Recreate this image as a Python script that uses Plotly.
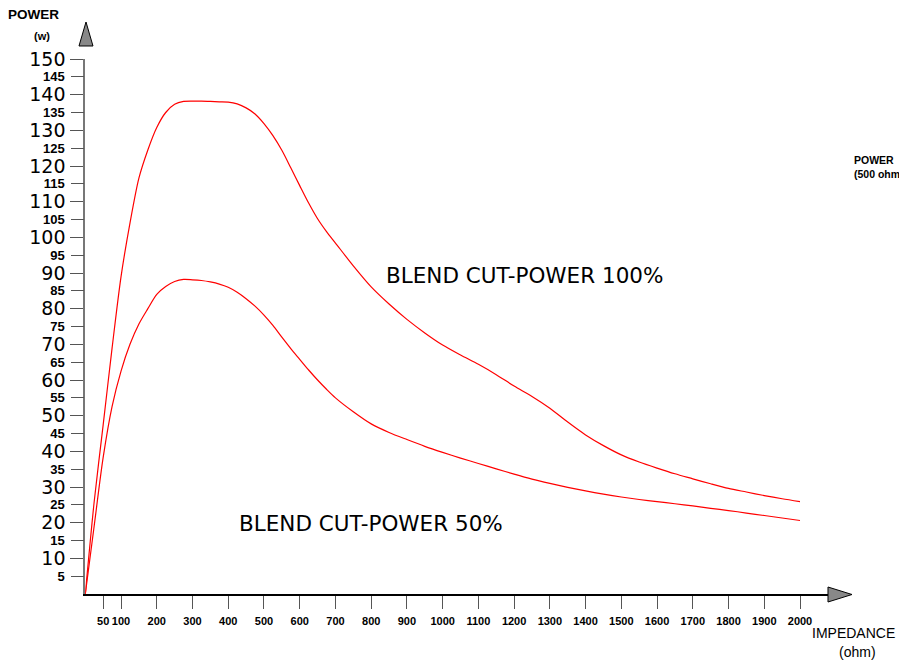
import plotly.graph_objects as go

# ---- data ----
impedance = [0, 25, 50, 75, 100, 125, 150, 175, 200, 225, 250, 275, 300, 325, 350, 375, 400,
             425, 450, 475, 500, 525, 550, 575, 600, 625, 650, 675, 700, 750, 800, 850, 900,
             950, 1000, 1050, 1100, 1150, 1200, 1250, 1300, 1350, 1400, 1450, 1500, 1550,
             1600, 1650, 1700, 1750, 1800, 1850, 1900, 1950, 2000]
power_100 = [0, 26, 47.4, 69, 89, 104, 116.6, 124.5, 130.8, 135, 137.3, 138.1, 138.2, 138.2,
             138.1, 138.0, 137.9, 137.4, 136.3, 134.6, 131.9, 128.5, 124.4, 119.5, 114.5,
             109.6, 105.2, 101.6, 98.4, 92.0, 86.1, 81.3, 77.0, 73.2, 69.8, 67.0, 64.4, 61.5,
             58.3, 55.4, 52.1, 48.2, 44.6, 41.6, 39.0, 37.0, 35.3, 33.7, 32.3, 30.9, 29.6,
             28.6, 27.6, 26.7, 25.9]
power_50 = [0, 19.2, 38.3, 52.6, 62.5, 70, 75.7, 80, 84, 86.2, 87.6, 88.2, 88.1, 87.9, 87.5,
            86.9, 86.0, 84.6, 82.8, 80.7, 78.2, 75.3, 72.0, 68.8, 65.8, 62.8, 60.0, 57.4,
            55.0, 51.1, 47.7, 45.3, 43.3, 41.4, 39.7, 38.1, 36.6, 35.1, 33.6, 32.2, 31.0,
            29.9, 28.9, 28.0, 27.2, 26.5, 25.9, 25.3, 24.7, 24.0, 23.4, 22.7, 22.0, 21.3, 20.6]

x_tickvals = [50] + list(range(100, 2001, 100))
x_ticktext = [str(v) for v in x_tickvals]
y_major = list(range(10, 151, 10))
y_minor = list(range(5, 151, 10))

label_100 = "BLEND CUT-POWER 100%"
label_50 = "BLEND CUT-POWER 50%"

# ---- figure geometry ----
W, H = 899, 669
x0_px, x2000_px, xend_px = 85.3, 800.0, 832.0
y0_px, y150_px = 594.0, 59.0
px_per_unit = (x2000_px - x0_px) / 2000.0
x_max = (xend_px - x0_px) / px_per_unit

line_style = dict(color="#ff0000", width=1.2, shape="spline", smoothing=0.8)

fig = go.Figure()
fig.add_trace(go.Scatter(x=impedance, y=power_100, mode="lines", line=line_style,
                         hoverinfo="skip", showlegend=False))
fig.add_trace(go.Scatter(x=impedance, y=power_50, mode="lines", line=line_style,
                         hoverinfo="skip", showlegend=False))
# invisible trace to activate the minor-label axis
fig.add_trace(go.Scatter(x=[None], y=[None], yaxis="y2", mode="lines",
                         hoverinfo="skip", showlegend=False))

fig.update_layout(
    width=W, height=H,
    margin=dict(l=0, r=0, t=0, b=0, pad=0, autoexpand=False),
    paper_bgcolor="white", plot_bgcolor="white",
    showlegend=False,
    xaxis=dict(
        domain=[x0_px / W, xend_px / W],
        range=[0, x_max], automargin=False,
        showgrid=False, zeroline=False,
        showline=True, linecolor="black", linewidth=1.5,
        tickmode="array", tickvals=x_tickvals,
        ticktext=["<b>%s</b>" % t for t in x_ticktext],
        tickangle=0,
        ticks="outside", ticklen=13, tickwidth=1.3, tickcolor="#555555",
        tickfont=dict(family="Liberation Sans, Arial", size=11, color="black"),
        ticklabelstandoff=3,
    ),
    yaxis=dict(
        domain=[(H - y0_px) / H, (H - y150_px) / H],
        range=[0, 150], automargin=False,
        showgrid=False, zeroline=False,
        showline=True, linecolor="#777777", linewidth=2,
        tickmode="array", tickvals=y_major, ticktext=[str(v) for v in y_major],
        ticks="outside", ticklen=13, tickwidth=1.3, tickcolor="#555555",
        tickfont=dict(family="DejaVu Sans", size=19, color="black"),
        ticklabelstandoff=1,
    ),
    yaxis2=dict(
        overlaying="y", anchor="x", side="left",
        range=[0, 150], automargin=False,
        showgrid=False, zeroline=False, showline=False,
        tickmode="array", tickvals=y_minor, ticktext=["<b>%d</b>" % v for v in y_minor],
        ticks="outside", ticklen=13, tickwidth=1.3, tickcolor="#555555",
        tickfont=dict(family="Liberation Sans, Arial", size=13, color="black"),
        ticklabelstandoff=4,
    ),
)

# arrowheads of the axes
fig.add_shape(type="path", xref="paper", yref="paper",
              path="M %f %f L %f %f L %f %f Z" % (86 / W, 1 - 22 / H, 79 / W, 1 - 46 / H, 93 / W, 1 - 46 / H),
              fillcolor="#888888", line=dict(color="black", width=1))
fig.add_shape(type="path", xref="paper", yref="paper",
              path="M %f %f L %f %f L %f %f Z" % (852 / W, 1 - 594.5 / H, 828 / W, 1 - 587 / H, 828 / W, 1 - 602 / H),
              fillcolor="#888888", line=dict(color="black", width=1))

def ann(text, x, y, size, family="Liberation Sans, Arial", bold=False, xanchor="left", xref="paper", yref="paper"):
    t = "<b>%s</b>" % text if bold else text
    fig.add_annotation(text=t, x=x, y=y, xref=xref, yref=yref, xanchor=xanchor, yanchor="middle",
                       align="left", showarrow=False, font=dict(family=family, size=size, color="black"))

ann("POWER", 6 / W, 1 - 15 / H, 13.5, bold=True)
ann("(w)", 32 / W, 1 - 36 / H, 11, bold=True)
ann("IMPEDANCE", 810 / W, 1 - 633 / H, 14)
ann("(ohm)", 837 / W, 1 - 652 / H, 14)
ann("POWER<br>(500 ohm)", 852 / W, 1 - 167 / H, 10.5, bold=True)

# curve labels in data coordinates
ann(label_100, 836, 89.3, 21.5, family="DejaVu Sans", xref="x", yref="y")
ann(label_50, 425, 19.9, 21.5, family="DejaVu Sans", xref="x", yref="y")

fig.write_html("out.html")
